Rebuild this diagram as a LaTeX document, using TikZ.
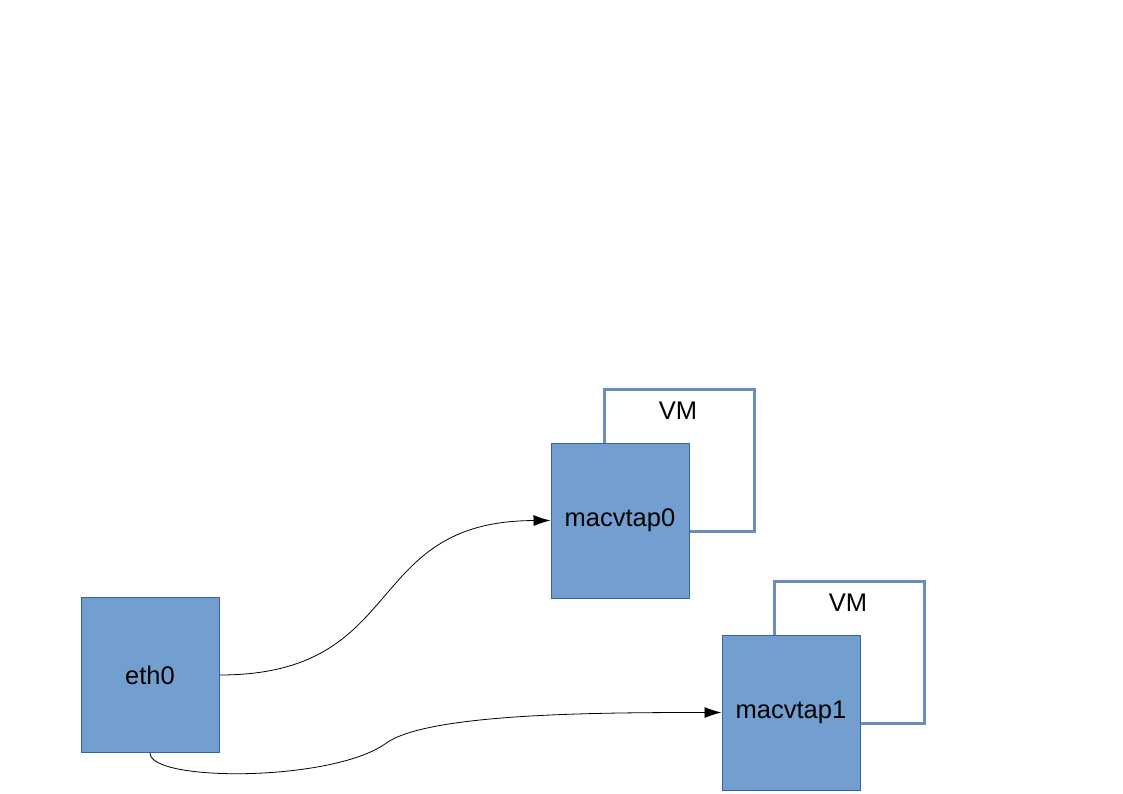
\documentclass[tikz,border=0pt]{standalone}
\usepackage{fontspec}
\setmainfont{Liberation Sans}
\usetikzlibrary{arrows.meta}
\definecolor{ifblue}{HTML}{729FCF}
\definecolor{ifedge}{HTML}{3465A4}
\definecolor{vmedge}{HTML}{6C8EBF}
\tikzset{
  iface/.style={draw=ifedge,fill=ifblue,line width=1pt,minimum width=138pt,minimum height=155pt,inner sep=0pt,font=\fontsize{25.5}{30}\selectfont},
  vmframe/.style={draw=vmedge,line width=3pt,minimum width=150pt,minimum height=142pt,inner sep=0pt},
  vmlabel/.style={font=\fontsize{25.5}{30}\selectfont},
  link/.style={black,line width=0.8pt,-{Latex[length=17pt,width=11pt]}}
}
\begin{document}
\begin{tikzpicture}[x=1pt,y=1pt]
  \useasboundingbox (0,0) rectangle (1123,-794);
  % virtual machines
  \node[vmframe] (vm0) at (679,-460) {};
  \node[vmlabel] (vm0text) at (678,-411) {VM};
  \node[vmframe] (vm1) at (849,-652) {};
  \node[vmlabel] (vm1text) at (848,-603) {VM};
  % interfaces
  \node[iface] (eth0) at (150,-675) {eth0};
  \node[iface] (tap0) at (620,-520.5) {macvtap0};
  \node[iface] (tap1) at (791,-712.5) {macvtap1};
  % links
  \draw[link] (eth0.east) .. controls (410,-675) and (360,-521) .. (tap0.west);
  \draw[link] (eth0.south) .. controls (150,-782) and (330,-782) .. (385,-744)
    .. controls (425,-713) and (600,-712.5) .. (tap1.west);
\end{tikzpicture}
\end{document}
